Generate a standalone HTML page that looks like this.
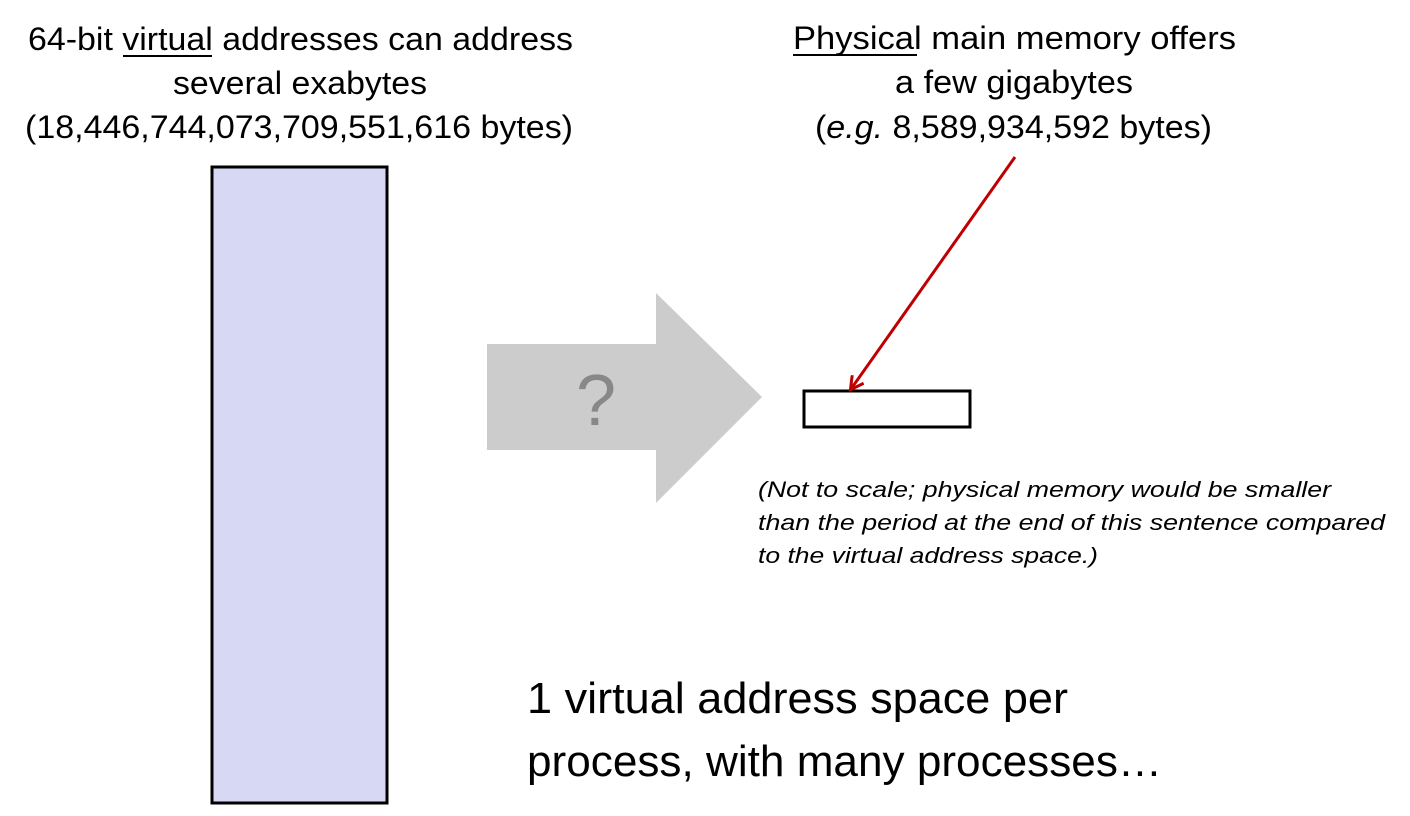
<!DOCTYPE html>
<html><head><meta charset="utf-8"><style>
html,body{margin:0;padding:0;background:#fff;}
svg{display:block;}
text{font-family:"Liberation Sans",sans-serif;fill:#000;}
</style></head><body>
<svg width="1410" height="816" viewBox="0 0 1410 816" xmlns="http://www.w3.org/2000/svg">
<defs>
<marker id="ah" markerWidth="16" markerHeight="16" refX="13" refY="8" orient="auto" markerUnits="userSpaceOnUse">
<path d="M1,1 L14,8 L1,15" fill="none" stroke="#c00000" stroke-width="3"/>
</marker>
</defs>
<text x="28" y="50" font-size="32" textLength="545" lengthAdjust="spacingAndGlyphs">64-bit virtual addresses can address</text>
<line x1="123" y1="56" x2="212" y2="56" stroke="#000" stroke-width="2"/>
<text x="173" y="94" font-size="32" textLength="254" lengthAdjust="spacingAndGlyphs">several exabytes</text>
<text x="25" y="138" font-size="32" textLength="548" lengthAdjust="spacingAndGlyphs">(18,446,744,073,709,551,616 bytes)</text>
<text x="793" y="49" font-size="32" textLength="443" lengthAdjust="spacingAndGlyphs">Physical main memory offers</text>
<line x1="793" y1="55" x2="917" y2="55" stroke="#000" stroke-width="2"/>
<text x="895" y="93" font-size="32" textLength="238" lengthAdjust="spacingAndGlyphs">a few gigabytes</text>
<text x="815" y="138" font-size="32" textLength="397" lengthAdjust="spacingAndGlyphs">(<tspan font-style="italic">e.g.</tspan> 8,589,934,592 bytes)</text>
<rect x="212" y="167" width="175" height="636" fill="#d6d8f4" stroke="#000" stroke-width="3"/>
<polygon points="487,344 656,344 656,293 762,397 656,503 656,450 487,450" fill="#cccccc"/>
<text x="596" y="425" font-size="72" text-anchor="middle" style="fill:#888">?</text>
<rect x="804" y="391" width="166" height="36" fill="#fff" stroke="#000" stroke-width="3"/>
<line x1="1015" y1="157" x2="851" y2="389" stroke="#c00000" stroke-width="3" marker-end="url(#ah)"/>
<text x="758" y="497" font-size="22" font-style="italic" textLength="573" lengthAdjust="spacingAndGlyphs">(Not to scale; physical memory would be smaller</text>
<text x="758" y="530" font-size="22" font-style="italic" textLength="627" lengthAdjust="spacingAndGlyphs">than the period at the end of this sentence compared</text>
<text x="758" y="563" font-size="22" font-style="italic" textLength="340" lengthAdjust="spacingAndGlyphs">to the virtual address space.)</text>
<text x="527" y="713" font-size="44" textLength="541" lengthAdjust="spacingAndGlyphs">1 virtual address space per</text>
<text x="527" y="776" font-size="44" textLength="635" lengthAdjust="spacingAndGlyphs">process, with many processes…</text>
</svg>
</body></html>
